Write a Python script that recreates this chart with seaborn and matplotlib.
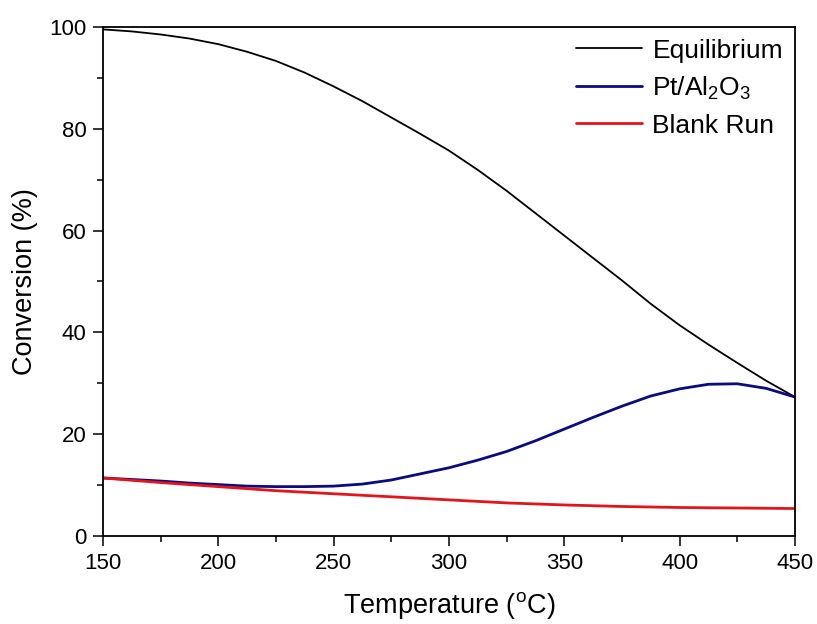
import pandas as pd
import matplotlib
matplotlib.use("Agg")
import matplotlib.pyplot as plt
from matplotlib.ticker import MultipleLocator
import seaborn as sns

# values
eq_temp = [150, 162.5, 175, 187.5, 200, 212.5, 225, 237.5, 250, 262.5, 275, 287.5, 300,
           312.5, 325, 337.5, 350, 362.5, 375, 387.5, 400, 412.5, 425, 437.5, 450]
eq_conv = [99.5, 99.1, 98.5, 97.7, 96.6, 95.1, 93.3, 91.0, 88.3, 85.4, 82.2, 79.0, 75.7,
           71.9, 67.8, 63.4, 59.0, 54.6, 50.2, 45.6, 41.4, 37.6, 34.0, 30.5, 27.3]

pt_temp = [150, 162.5, 175, 187.5, 200, 212.5, 225, 237.5, 250, 262.5, 275, 287.5, 300,
           312.5, 325, 337.5, 350, 362.5, 375, 387.5, 400, 412.5, 425, 437.5, 450]
pt_conv = [11.4, 11.1, 10.8, 10.4, 10.1, 9.8, 9.7, 9.7, 9.8, 10.2, 11.0, 12.2, 13.4,
           14.9, 16.6, 18.7, 21.0, 23.3, 25.5, 27.5, 28.9, 29.8, 29.9, 29.0, 27.3]

blank_temp = [150, 175, 200, 225, 250, 275, 300, 325, 350, 375, 400, 425, 450]
blank_conv = [11.4, 10.5, 9.7, 8.9, 8.3, 7.7, 7.1, 6.5, 6.1, 5.8, 5.6, 5.5, 5.4]

eq_df = pd.DataFrame({"Temperature": eq_temp, "Conversion": eq_conv})
pt_df = pd.DataFrame({"Temperature": pt_temp, "Conversion": pt_conv})
blank_df = pd.DataFrame({"Temperature": blank_temp, "Conversion": blank_conv})

sns.set_style("ticks", {"text.color": "black", "axes.labelcolor": "black",
                        "xtick.color": "black", "ytick.color": "black",
                        "axes.edgecolor": "black"})
plt.rcParams["font.family"] = ["Liberation Sans", "DejaVu Sans"]
plt.rcParams["mathtext.fontset"] = "custom"
plt.rcParams["mathtext.rm"] = "Liberation Sans"
plt.rcParams["mathtext.it"] = "Liberation Sans"
plt.rcParams["mathtext.default"] = "regular"

fig = plt.figure(figsize=(8.17, 6.24), dpi=100)
ax = fig.add_axes([0.126, 0.141, 0.847, 0.816])

sns.lineplot(data=eq_df, x="Temperature", y="Conversion", ax=ax, color="black",
             linewidth=1.3, label="Equilibrium")
sns.lineplot(data=pt_df, x="Temperature", y="Conversion", ax=ax, color="#0a0a82",
             linewidth=2.0, label="Pt/Al$_2$O$_3$")
sns.lineplot(data=blank_df, x="Temperature", y="Conversion", ax=ax, color="#e3141c",
             linewidth=2.0, label="Blank Run")

ax.set_xlim(150, 450)
ax.set_ylim(0, 100)
ax.xaxis.set_major_locator(MultipleLocator(50))
ax.xaxis.set_minor_locator(MultipleLocator(25))
ax.yaxis.set_major_locator(MultipleLocator(20))
ax.yaxis.set_minor_locator(MultipleLocator(10))
ax.tick_params(which="major", direction="out", length=7, width=1.1, labelsize=16, pad=5)
ax.tick_params(which="minor", direction="out", length=4.5, width=1.1)
for sp in ax.spines.values():
    sp.set_linewidth(1.3)
    sp.set_color("black")

ax.set_xlabel("Temperature ($^o$C)", fontsize=19.5, labelpad=12)
ax.set_ylabel("Conversion (%)", fontsize=19.5, labelpad=8)

ax.legend(loc="upper right", frameon=False, fontsize=19, handlelength=2.5,
          handletextpad=0.4, labelspacing=0.45, borderpad=0.2, borderaxespad=0.25)

fig.savefig("out.png", dpi=100)
